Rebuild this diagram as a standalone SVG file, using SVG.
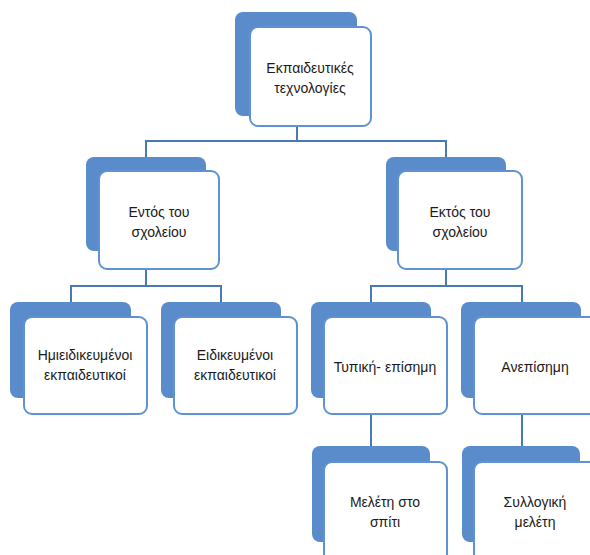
<svg xmlns="http://www.w3.org/2000/svg" width="590" height="555" viewBox="0 0 590 555">
<style>
.back{fill:#5a8bca;}
.front{fill:#ffffff;stroke:#5f92d2;stroke-width:2;}
.conn{fill:none;stroke:#4a78b0;stroke-width:2;}
text{font-family:"Liberation Sans",Arial,sans-serif;font-size:14px;fill:#1a1a1a;text-anchor:middle;}
</style>
<rect width="590" height="555" fill="#ffffff"/>
<g id="connectors">
<path class="conn" d="M297 126V141M146 157V141H446V157"/>
<path class="conn" d="M146 269V286M71 302V286H221V302"/>
<path class="conn" d="M446 269V286M371 302V286H522V302"/>
<path class="conn" d="M371 414V446"/>
<path class="conn" d="M522 414V446"/>
</g>
<g id="n-top">
<rect class="back" x="235" y="12" width="122" height="104" rx="8"/>
<rect class="front" x="250" y="27" width="121" height="99" rx="8"/>
<text x="310" y="73">Εκπαιδευτικές</text>
<text x="310" y="93">τεχνολογίες</text>
</g>
<g id="n-entos">
<rect class="back" x="86" y="157" width="120" height="94" rx="8"/>
<rect class="front" x="99" y="171" width="120" height="98" rx="8"/>
<text x="159" y="217">Εντός του</text>
<text x="159" y="237">σχολείου</text>
</g>
<g id="n-ektos">
<rect class="back" x="386" y="157" width="120" height="94" rx="8"/>
<rect class="front" x="398" y="171" width="124" height="98" rx="8"/>
<text x="460" y="217">Εκτός του</text>
<text x="460" y="237">σχολείου</text>
</g>
<g id="n-hmi">
<rect class="back" x="10" y="302" width="121" height="96" rx="8"/>
<rect class="front" x="24" y="317" width="123" height="97" rx="8"/>
<text x="85" y="360">Ημιειδικευμένοι</text>
<text x="85" y="380">εκπαιδευτικοί</text>
</g>
<g id="n-eid">
<rect class="back" x="161" y="302" width="120" height="96" rx="8"/>
<rect class="front" x="174" y="317" width="123" height="97" rx="8"/>
<text x="235" y="360">Ειδικευμένοι</text>
<text x="235" y="380">εκπαιδευτικοί</text>
</g>
<g id="n-typ">
<rect class="back" x="311" y="302" width="120" height="96" rx="8"/>
<rect class="front" x="324" y="317" width="123" height="97" rx="8"/>
<text x="385" y="372">Τυπική- επίσημη</text>
</g>
<g id="n-anep">
<rect class="back" x="461" y="302" width="120" height="96" rx="8"/>
<rect class="front" x="474" y="317" width="123" height="97" rx="8"/>
<text x="535" y="372">Ανεπίσημη</text>
</g>
<g id="n-melh">
<rect class="back" x="312" y="446" width="118" height="96" rx="8"/>
<rect class="front" x="324" y="462" width="123" height="100" rx="8"/>
<text x="385" y="507">Μελέτη στο</text>
<text x="385" y="527">σπίτι</text>
</g>
<g id="n-syll">
<rect class="back" x="462" y="446" width="118" height="96" rx="8"/>
<rect class="front" x="474" y="462" width="123" height="100" rx="8"/>
<text x="535" y="507">Συλλογική</text>
<text x="535" y="527">μελέτη</text>
</g>
</svg>
